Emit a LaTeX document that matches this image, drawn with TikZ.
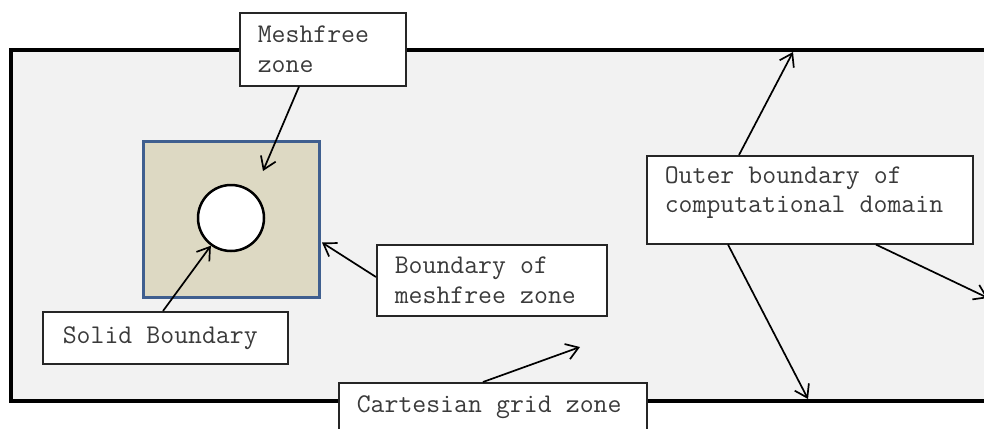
\documentclass[tikz,border=0pt]{standalone}
\usepackage{fontspec}
\usetikzlibrary{arrows.meta,calc}
\definecolor{domfill}{HTML}{F2F2F2}
\definecolor{mzfill}{HTML}{DDD9C3}
\definecolor{mzline}{HTML}{3F5F8F}
\definecolor{txt}{HTML}{3A3A3A}
\newcommand\lblfontx{\ttfamily\fontsize{27}{29.5}\selectfont}
\newcommand\lblspacex{\spaceskip=0.525em\relax\xspaceskip=0.525em\relax}
\tikzset{
  lbl/.style={draw=black!85, line width=1.6pt, fill=white, anchor=north west,
    inner xsep=18pt, inner ysep=0pt, align=left, text=txt,
    font=\lblfontx, execute at begin node=\lblspacex},
  arr/.style={line width=1.7pt, -{Straight Barb[length=12pt,width=16pt,line width=1.7pt]}},
}
\begin{document}
\begin{tikzpicture}[x=1pt,y=-1pt]
\useasboundingbox (0,0) rectangle (984,428);
\clip (0,0) rectangle (984,428);
% computational domain
\draw[line width=4pt, fill=domfill] (11,50) rectangle (1010,401);
% meshfree zone
\node[draw=mzline, fill=mzfill, line width=3pt, minimum width=176pt, minimum height=156pt, inner sep=0pt] (mz) at (231,219) {};
\node[draw=black, fill=white, line width=2.5pt, circle, minimum size=66pt, inner sep=0pt] (circ) at (231,218) {};
% labels
\node[lbl, minimum width=166pt, minimum height=73pt, text width=130pt] (mf) at (239,12) {Meshfree\\zone};
\node[lbl, minimum width=326pt, minimum height=88pt, text width=290pt] (ob) at (646,155) {Outer boundary of\\computational domain\par\vspace*{14pt}};
\node[lbl, minimum width=230pt, minimum height=71pt, text width=194pt] (bm) at (376,244) {Boundary of\\meshfree zone};
\node[lbl, minimum width=245pt, minimum height=52pt, text width=205pt, inner xsep=20pt] (sb) at (42,311) {Solid Boundary};
\node[lbl, minimum width=308pt, minimum height=48pt, text width=272pt] (cg) at (338,382) {Cartesian grid zone};
% free ends
\coordinate (pmz) at (263,171);
\coordinate (pcg) at (580,347);
\coordinate (ptop) at (793,52);
\coordinate (pbot) at (808,399);
\coordinate (pright) at (988,298);
% connectors
\draw[arr] ($(mf.south west)+(60,0)$) -- (pmz);
\draw[arr] ($(bm.north west)+(0,33)$) -- ($(mz.north east)+(1.5,103)$);
\draw[arr] ($(sb.north west)+(121,0)$) -- (circ.234);
\draw[arr] ($(cg.north west)+(145,0)$) -- (pcg);
\draw[arr] ($(ob.north west)+(93,0)$) -- (ptop);
\draw[arr] ($(ob.south west)+(82,0)$) -- (pbot);
\draw[arr] ($(ob.south west)+(230,0)$) -- (pright);
\end{tikzpicture}
\end{document}
